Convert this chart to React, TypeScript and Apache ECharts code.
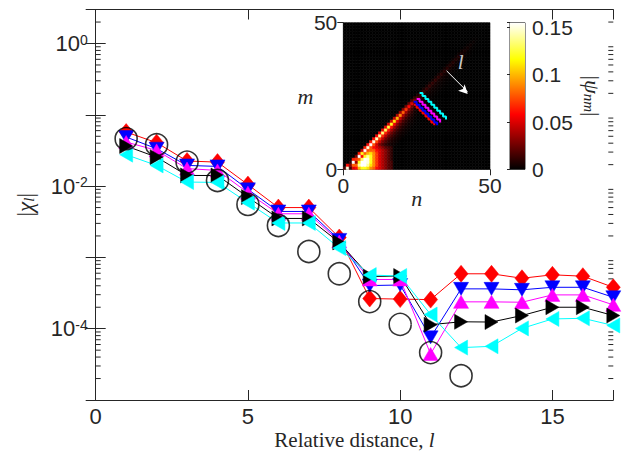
import React, { useEffect, useRef } from 'react';
import * as echarts from 'echarts';

// ---------------- main plot data ----------------
const distances = [1, 2, 3, 4, 5, 6, 7, 8, 9, 10, 11, 12, 13, 14, 15, 16, 17];
const redDiamond = [0.0573, 0.0407, 0.0225, 0.0217, 0.0105, 0.0050, 0.0050, 0.0019, 0.000265, 0.00026, 0.000256, 0.000589, 0.000589, 0.00051, 0.00057, 0.000545, 0.000381];
const blueDown = [0.0488, 0.0335, 0.0195, 0.0189, 0.0090, 0.00441, 0.00441, 0.00176, 0.000403, 0.00041, 0.0000757, 0.000362, 0.000362, 0.000351, 0.000381, 0.000381, 0.000276];
const magentaUp = [0.0415, 0.0317, 0.0176, 0.0166, 0.00808, 0.00409, 0.00409, 0.00167, 0.00049, 0.00049, 0.0000442, 0.000238, 0.000238, 0.000235, 0.000298, 0.000298, 0.000216];
const blackRight = [0.0365, 0.0255, 0.0141, 0.0141, 0.00701, 0.00352, 0.00352, 0.00162, 0.00054, 0.000548, 0.000114, 0.000125, 0.000124, 0.000153, 0.0002, 0.0002, 0.000153];
const cyanLeft = [0.0276, 0.0195, 0.0114, 0.01127, 0.00585, 0.00304, 0.00304, 0.00135, 0.000566, 0.000548, 0.000158, 0.0000543, 0.0000566, 0.000101, 0.000137, 0.00014, 0.000111];
const circleDistances = [1, 2, 3, 4, 5, 6, 7, 8, 9, 10, 11, 12];
const circleValues = [0.0463, 0.0381, 0.0217, 0.0120, 0.00553, 0.0028, 0.00121, 0.000589, 0.00024, 0.000115, 0.0000462, 0.0000219];

const xTicks = [0, 5, 10, 15];
const logMantissas = [2, 3, 4, 5, 6, 7, 8, 9];
const logDecades = [-5, -4, -3, -2, -1, 0];

// ---------------- inset (|psi_nm|) data ----------------
// intensity on the bright ridge cell (m = n - 1) for n = 0..49
const ridgeAlong = [0.04, 0.15, 0.03, 0.16, 0.07, 0.16, 0.12, 0.16, 0.15, 0.155, 0.15, 0.145, 0.14, 0.135, 0.13, 0.125, 0.12, 0.11, 0.10, 0.09, 0.08, 0.07, 0.06, 0.05, 0.03, 0.016, 0.014, 0.013, 0.012, 0.012, 0.011, 0.011, 0.010, 0.010, 0.009, 0.009, 0.008, 0.008, 0.007, 0.007, 0.006, 0.005, 0.004, 0.003, 0.002, 0.001, 0, 0, 0, 0];
// fraction of the ridge value on the cell just above the ridge (m = n)
const upperNeighbour = 0.4;
// fraction of the ridge value at distance 1..8 below the ridge
const belowRidge = [0.5, 0.32, 0.2, 0.13, 0.08, 0.05, 0.03, 0.02];
// bright blob near the origin: rows m = 0..7, columns n = 3..16
const blobStartN = 3;
const blobRows = [
  [0.03, 0.06, 0.10, 0.12, 0.12, 0.11, 0.09, 0.08, 0.06, 0.05, 0.04, 0.03, 0.02, 0.015],
  [0, 0.08, 0.14, 0.16, 0.16, 0.14, 0.11, 0.09, 0.07, 0.05, 0.04, 0.03, 0.02, 0.015],
  [0, 0, 0.12, 0.16, 0.16, 0.15, 0.12, 0.09, 0.07, 0.05, 0.04, 0.03, 0.02, 0.015],
  [0, 0, 0, 0.13, 0.16, 0.15, 0.12, 0.09, 0.07, 0.05, 0.04, 0.03, 0.02, 0.01],
  [0, 0, 0, 0, 0.12, 0.14, 0.12, 0.09, 0.07, 0.05, 0.04, 0.03, 0.02, 0.01],
  [0, 0, 0, 0, 0, 0.10, 0.11, 0.09, 0.07, 0.05, 0.04, 0.03, 0.02, 0.01],
  [0, 0, 0, 0, 0, 0, 0.08, 0.08, 0.06, 0.05, 0.04, 0.03, 0.02, 0.01],
  [0, 0, 0, 0, 0, 0, 0, 0.06, 0.05, 0.04, 0.03, 0.02, 0.015, 0.01],
];
const colorMax = 0.155;
const colorTicks = [0, 0.05, 0.1, 0.15];

// anti-diagonal cuts: [start n, start m, number of steps]
const redCut = [24, 22, 7];
const blueCut = [24, 23, 8];
const magentaCut = [25, 24, 8];
const cyanCut = [26, 26, 9];
const arrowStart = [35.2, 33.6];
const arrowEnd = [42.4, 26.4];
const arrowLabelPos = [40, 36.5];

const AX = '#262626';
const SANS = 'Liberation Sans';
const SERIF = 'Liberation Serif';

function hot(v: number): string {
  const t = Math.max(0, Math.min(1, v / colorMax));
  const r = Math.min(1, t / 0.375);
  const g = Math.max(0, Math.min(1, (t - 0.375) / 0.375));
  const b = Math.max(0, Math.min(1, (t - 0.75) / 0.25));
  return `rgb(${Math.round(r * 255)},${Math.round(g * 255)},${Math.round(b * 255)})`;
}

function buildGrid(): number[][] {
  const out: number[][] = [];
  for (let n = 0; n < 50; n++) {
    for (let m = 0; m < 50; m++) {
      let v = 0;
      const d = n - 1 - m;
      const r = ridgeAlong[n];
      if (d === 0) v = r;
      else if (d === -1) v = r * upperNeighbour;
      else if (d >= 1 && d <= belowRidge.length) v = r * belowRidge[d - 1];
      if (m < blobRows.length) {
        const j = n - blobStartN;
        if (j >= 0 && j < blobRows[m].length) v = Math.max(v, blobRows[m][j]);
      }
      out.push([n, m, v]);
    }
  }
  return out;
}

function cutPoints(cut: number[]): number[][] {
  const pts: number[][] = [];
  for (let k = 0; k <= cut[2]; k++) pts.push([cut[0] + k, cut[1] - k]);
  return pts;
}

export default function App() {
  const ref = useRef<HTMLDivElement>(null);
  useEffect(() => {
    if (!ref.current) return;
    const chart = echarts.init(ref.current, undefined, { renderer: 'svg' });

    const minorTickData: number[][] = [];
    logDecades.forEach((d) => logMantissas.forEach((k) => {
      const v = k * Math.pow(10, d);
      if (v < 3) minorTickData.push([0, v]);
    }));

    const lineSeries = (name: string, data: number[], color: string, symbol: string, size: any, rotate: number) => ({
      name,
      type: 'line',
      xAxisIndex: 0,
      yAxisIndex: 0,
      data: distances.map((x, i) => [x, data[i]]),
      symbol,
      symbolSize: size,
      symbolRotate: rotate,
      lineStyle: { color, width: 1 },
      itemStyle: { color, borderColor: color, borderWidth: 0.5 },
      z: 3,
    });

    const cutSeries = (cut: number[], color: string) => ({
      type: 'line',
      xAxisIndex: 2,
      yAxisIndex: 2,
      data: cutPoints(cut),
      step: 'end',
      symbol: 'none',
      lineStyle: { color, width: 2 },
      z: 10,
    });

    const option: any = {
      animation: false,
      grid: [
        { left: 95.7, top: 9.5, width: 517.6, height: 390.5, show: false },
        { left: 343.3, top: 22.7, width: 146.7, height: 146.6, show: false },
        { left: 510, top: 22.7, width: 15, height: 146.6, show: true, borderColor: AX, borderWidth: 1 },
      ],
      xAxis: [
        {
          gridIndex: 0, type: 'value', min: 0, max: 17, interval: 5, position: 'bottom',
          axisLine: { show: true, lineStyle: { color: AX, width: 1 } },
          axisTick: { show: true, inside: true, length: 10, lineStyle: { color: AX } },
          splitLine: { show: false },
          axisLabel: {
            show: true, margin: 5, color: AX, fontFamily: SANS, fontSize: 22, lineHeight: 22,
            formatter: (v: number) => (xTicks.indexOf(v) >= 0 ? String(v) : ''),
          },
          name: 'Relative distance, {i|l}',
          nameLocation: 'middle', nameGap: 29, nameMoveOverlap: false,
          nameTextStyle: {
            fontFamily: SERIF, fontSize: 21, color: AX, lineHeight: 21,
            rich: { i: { fontFamily: SERIF, fontSize: 21, fontStyle: 'italic', color: AX, lineHeight: 21 } },
          },
        },
        {
          gridIndex: 0, type: 'value', min: 0, max: 17, interval: 5, position: 'top',
          axisLine: { show: true, lineStyle: { color: AX, width: 1 } },
          axisTick: { show: true, inside: true, length: 10, lineStyle: { color: AX } },
          axisLabel: { show: false }, splitLine: { show: false },
        },
        {
          gridIndex: 1, type: 'value', min: 0, max: 50, interval: 50, position: 'bottom',
          axisLine: { show: true, lineStyle: { color: '#7f7f7f', width: 1 } },
          axisTick: { show: true, inside: false, length: 6, lineStyle: { color: AX } },
          splitLine: { show: false },
          axisLabel: { show: true, margin: 6, color: AX, fontFamily: SANS, fontSize: 21 },
          name: 'n', nameLocation: 'middle', nameGap: 18, nameMoveOverlap: false,
          nameTextStyle: { fontFamily: SERIF, fontSize: 22, fontStyle: 'italic', color: AX },
        },
        { gridIndex: 2, type: 'value', min: 0, max: 1, show: false },
      ],
      yAxis: [
        {
          gridIndex: 0, type: 'log', logBase: 10, min: 0.00001, max: 3, position: 'left',
          axisLine: { show: true, lineStyle: { color: AX, width: 1 } },
          axisTick: { show: true, inside: true, length: 10, lineStyle: { color: AX } },
          splitLine: { show: false }, minorTick: { show: false },
          axisLabel: {
            show: true, margin: 8, color: AX,
            formatter: (v: number) => {
              const lg = Math.log10(v);
              const e = Math.round(lg);
              if (Math.abs(lg - e) > 1e-6 || e % 2 !== 0) return '';
              return `{b|10}{s|${e}}`;
            },
            rich: {
              b: { fontFamily: SANS, fontSize: 22, color: AX },
              s: { fontFamily: SANS, fontSize: 14, color: AX, verticalAlign: 'top' },
            },
          },
          name: '|{c|χ}{sub|l}|',
          nameLocation: 'middle', nameGap: 59, nameMoveOverlap: false,
          nameTextStyle: {
            fontFamily: SERIF, fontSize: 23, color: AX,
            rich: {
              c: { fontFamily: SERIF, fontSize: 23, fontStyle: 'italic', color: AX },
              sub: { fontFamily: SERIF, fontSize: 15, fontStyle: 'italic', color: AX, verticalAlign: 'bottom' },
            },
          },
        },
        {
          gridIndex: 0, type: 'log', logBase: 10, min: 0.00001, max: 3, position: 'right',
          axisLine: { show: true, lineStyle: { color: AX, width: 1 } },
          axisTick: { show: true, inside: true, length: 10, lineStyle: { color: AX } },
          axisLabel: { show: false }, splitLine: { show: false },
        },
        {
          gridIndex: 1, type: 'value', min: 0, max: 50, interval: 50, position: 'left',
          axisLine: { show: true, lineStyle: { color: '#7f7f7f', width: 1 } },
          axisTick: { show: true, inside: false, length: 6, lineStyle: { color: AX } },
          splitLine: { show: false },
          axisLabel: { show: true, margin: 6, color: AX, fontFamily: SANS, fontSize: 21 },
          name: 'm', nameLocation: 'middle', nameGap: 30, nameRotate: 0, nameMoveOverlap: false,
          nameTextStyle: { fontFamily: SERIF, fontSize: 22, fontStyle: 'italic', color: AX, align: 'right' },
        },
        {
          gridIndex: 2, type: 'value', min: 0, max: colorMax, interval: 0.05, position: 'right',
          axisLine: { show: false },
          axisTick: { show: true, inside: true, length: 3, lineStyle: { color: AX } },
          splitLine: { show: false },
          axisLabel: {
            show: true, margin: 7, color: AX, fontFamily: SANS, fontSize: 21,
            formatter: (v: number) => (colorTicks.some((t) => Math.abs(t - v) < 1e-9) ? String(v) : ''),
          },
          name: '|{c|ψ}{sub|nm}|', nameLocation: 'middle', nameGap: 56, nameRotate: -90, nameMoveOverlap: false,
          nameTextStyle: {
            fontFamily: SERIF, fontSize: 22, color: AX,
            rich: {
              c: { fontFamily: SERIF, fontSize: 22, fontStyle: 'italic', color: AX },
              sub: { fontFamily: SERIF, fontSize: 15, fontStyle: 'italic', color: AX, verticalAlign: 'bottom' },
            },
          },
        },
      ],
      series: [
        {
          type: 'custom', xAxisIndex: 0, yAxisIndex: 0, data: minorTickData, silent: true, z: 1,
          renderItem: (params: any, api: any) => {
            const y = api.coord([0, api.value(1)])[1];
            const cs = params.coordSys;
            return {
              type: 'group',
              children: [
                { type: 'line', shape: { x1: cs.x, y1: y, x2: cs.x + 5, y2: y }, style: { stroke: AX, lineWidth: 1 } },
                { type: 'line', shape: { x1: cs.x + cs.width - 5, y1: y, x2: cs.x + cs.width, y2: y }, style: { stroke: AX, lineWidth: 1 } },
              ],
            };
          },
        },
        lineSeries('red', redDiamond, '#ff0000', 'diamond', [14, 17], 0),
        lineSeries('blue', blueDown, '#0000ff', 'triangle', [15, 13], 180),
        lineSeries('magenta', magentaUp, '#ff00ff', 'triangle', [15, 13], 0),
        lineSeries('black', blackRight, '#000000', 'triangle', [15, 13], -90),
        lineSeries('cyan', cyanLeft, '#00ffff', 'triangle', [15, 13], 90),
        {
          type: 'scatter', xAxisIndex: 0, yAxisIndex: 0,
          data: circleDistances.map((x, i) => [x, circleValues[i]]),
          symbol: 'circle', symbolSize: 22,
          itemStyle: { color: 'rgba(0,0,0,0)', borderColor: '#000', borderWidth: 1.6 },
          z: 4,
        },
        {
          type: 'custom', xAxisIndex: 2, yAxisIndex: 2, data: buildGrid(), silent: true, z: 5,
          renderItem: (params: any, api: any) => {
            const n = api.value(0);
            const m = api.value(1);
            const p0 = api.coord([n, m]);
            const p1 = api.coord([n + 1, m + 1]);
            const c = hot(api.value(2));
            return {
              type: 'rect',
              shape: { x: p0[0], y: p1[1], width: p1[0] - p0[0], height: p0[1] - p1[1] },
              style: { fill: c, stroke: c, lineWidth: 0.6 },
            };
          },
        },
        cutSeries(redCut, '#ff0000'),
        cutSeries(blueCut, '#0000ff'),
        cutSeries(magentaCut, '#ff00ff'),
        cutSeries(cyanCut, '#00ffff'),
        {
          type: 'line', xAxisIndex: 2, yAxisIndex: 2, z: 11,
          data: [
            { value: arrowStart, symbol: 'none' },
            { value: arrowEnd, symbol: 'arrow', symbolSize: [7, 9], symbolRotate: -135, symbolOffset: [0, 2] },
          ],
          lineStyle: { color: '#ffffff', width: 1 },
          itemStyle: { color: '#ffffff' },
        },
        {
          type: 'scatter', xAxisIndex: 2, yAxisIndex: 2, data: [arrowLabelPos], symbolSize: 0, z: 11,
          label: {
            show: true, position: 'inside', formatter: 'l', color: '#ffffff',
            fontFamily: SERIF, fontStyle: 'italic', fontSize: 21,
          },
        },
        {
          type: 'custom', xAxisIndex: 3, yAxisIndex: 3, data: [[0, 0]], silent: true, z: 5,
          renderItem: (params: any, api: any) => {
            const p0 = api.coord([0, 0]);
            const p1 = api.coord([1, colorMax]);
            return {
              type: 'rect',
              shape: { x: p0[0], y: p1[1], width: p1[0] - p0[0], height: p0[1] - p1[1] },
              style: {
                fill: new echarts.graphic.LinearGradient(0, 1, 0, 0, [
                  { offset: 0, color: '#000000' },
                  { offset: 0.375, color: '#ff0000' },
                  { offset: 0.75, color: '#ffff00' },
                  { offset: 1, color: '#ffffff' },
                ]),
              },
            };
          },
        },
      ],
    };
    chart.setOption(option);
    return () => chart.dispose();
  }, []);
  return <div ref={ref} style={{ position: 'absolute', left: 0, top: 0, width: 625, height: 459 }} />;
}
